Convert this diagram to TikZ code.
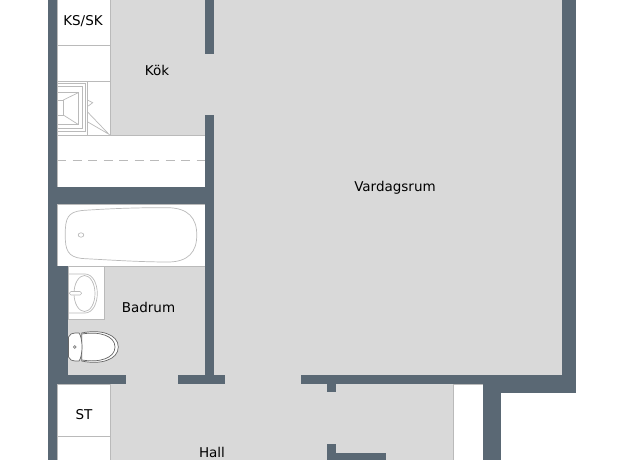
\documentclass[tikz,border=0pt]{standalone}
\usepackage{fontspec}
\setmainfont{DejaVu Sans}
\definecolor{wallcolor}{HTML}{5A6874}
\definecolor{linegray}{HTML}{BABABA}
\colorlet{roomgray}{black!15}
\tikzset{fixture/.style={fill=white,draw=linegray,line width=0.7pt},thin line/.style={draw=linegray,line width=0.7pt},pan/.style={draw=black!60,fill=white,line width=0.7pt},wall/.style={fill=wallcolor,draw=none},label/.style={inner sep=0pt,font=\fontsize{13.5}{16}\selectfont,text=black}}

\begin{document}
\begin{tikzpicture}[x=1pt,y=-1pt]
\useasboundingbox (0,0) rectangle (625,460);
\clip (0,0) rectangle (625,460);
% floors
\fill[roomgray] (57,0) rectangle (562,375);
\fill[roomgray] (57,375) rectangle (483,460);
% white built-ins
\filldraw[fixture] (57,-2) rectangle (110,135);
\filldraw[fixture] (57,135) rectangle (205,187);
\filldraw[fixture] (57,204) rectangle (205,266);
\filldraw[fixture] (68,266) rectangle (104,319);
\filldraw[fixture] (57,384) rectangle (110,462);
\filldraw[fixture] (453,384) rectangle (484,462);
\draw[thin line] (57,45.5) -- (110,45.5);
\draw[thin line] (57,81.5) -- (110,81.5);
\draw[thin line] (57,436) -- (110,436);
\draw[thin line,dash pattern=on 9pt off 6.5pt] (57,160.3) -- (205,160.3);
% stove
\draw[thin line] (87.3,81.5) -- (87.3,135);
\draw[thin line] (57,83) -- (85,83) -- (85,131.7) -- (57,131.7);
\draw[thin line] (57,86) -- (82.7,86) -- (82.7,128) -- (57,128);
\draw[thin line] (57,92.7) -- (78.3,92.7) -- (78.3,124.5) -- (57,124.5);
\draw[thin line] (57,100) -- (63.3,100) -- (63.3,115) -- (57,115);
\draw[thin line] (63.3,100) -- (78.3,92.7);
\draw[thin line] (63.3,115) -- (78.3,124.5);
\draw[thin line] (87.3,100) -- (92.7,102.7) -- (88.3,106);
\draw[thin line] (87.3,111.7) -- (109,134.3) -- (87.3,121.7);
% bath tub
\draw[thin line] (65.3,235) .. controls (65,218) and (68,212) .. (82,210.5) .. controls (110,208.5) and (140,207.5) .. (168,207.7) .. controls (188,208) and (197,218) .. (196.7,235) .. controls (197,252) and (188,262) .. (168,262) .. controls (140,262) and (110,260) .. (82,258.5) .. controls (68,257) and (65,250) .. (65.3,235);
\filldraw[thin line,fill=white] (81,235) ellipse (2.8 and 2.2);
% sink
\draw[thin line] (68,274) -- (85,274) .. controls (93,274) and (97.3,284) .. (97.3,293.5) .. controls (97.3,303) and (93,313) .. (85,313) -- (68,313);
\draw[thin line] (84.5,293.5) ellipse (10.5 and 18);
\draw[thin line,fill=white,rounded corners=1.5pt] (69.5,291.5) rectangle (81.5,295);
% toilet
\filldraw[pan] (81.7,333) .. controls (100,329) and (118.3,334) .. (118.3,347) .. controls (118.3,360) and (100,365) .. (81.7,361) -- cycle;
\draw[pan,fill=none] (82,334) .. controls (100,331) and (115,336) .. (115,347) .. controls (115,358) and (100,363) .. (82,360);
\filldraw[pan] (68.5,337) .. controls (70,334) and (72,333) .. (75,333) -- (79,333) .. controls (83,338) and (83,356) .. (79,361) -- (75,361) .. controls (72,361) and (70,360) .. (68.5,357) -- cycle;
\filldraw[pan,draw=black!50] (74.7,347) circle (1.4);
% walls
\fill[wall] (48,0) rectangle (57,460);
\fill[wall] (48,266) rectangle (68,384);
\fill[wall] (48,187) rectangle (214,204);
\fill[wall] (205,0) rectangle (214,54);
\fill[wall] (205,115) rectangle (214,375);
\fill[wall] (48,375) rectangle (126,384);
\fill[wall] (178,375) rectangle (225,384);
\fill[wall] (300.7,375) rectangle (576,384);
\fill[wall] (562,0) rectangle (576,393);
\fill[wall] (483,375) rectangle (576,393);
\fill[wall] (483,375) rectangle (501,460);
\fill[wall] (327,384) rectangle (336,392);
\fill[wall] (327,444) rectangle (336,460);
\fill[wall] (327,453) rectangle (386,460);
% room names
\node[label] (kssk) at (83,21.5) {KS/SK};
\node[label] (kok) at (157,70) {Kök};
\node[label] (vardagsrum) at (395,188) {Vardagsrum};
\node[label] (badrum) at (148.5,307.5) {Badrum};
\node[label] (st) at (84,414.5) {ST};
\node[label] (hall) at (212,452.5) {Hall};
\end{tikzpicture}
\end{document}
